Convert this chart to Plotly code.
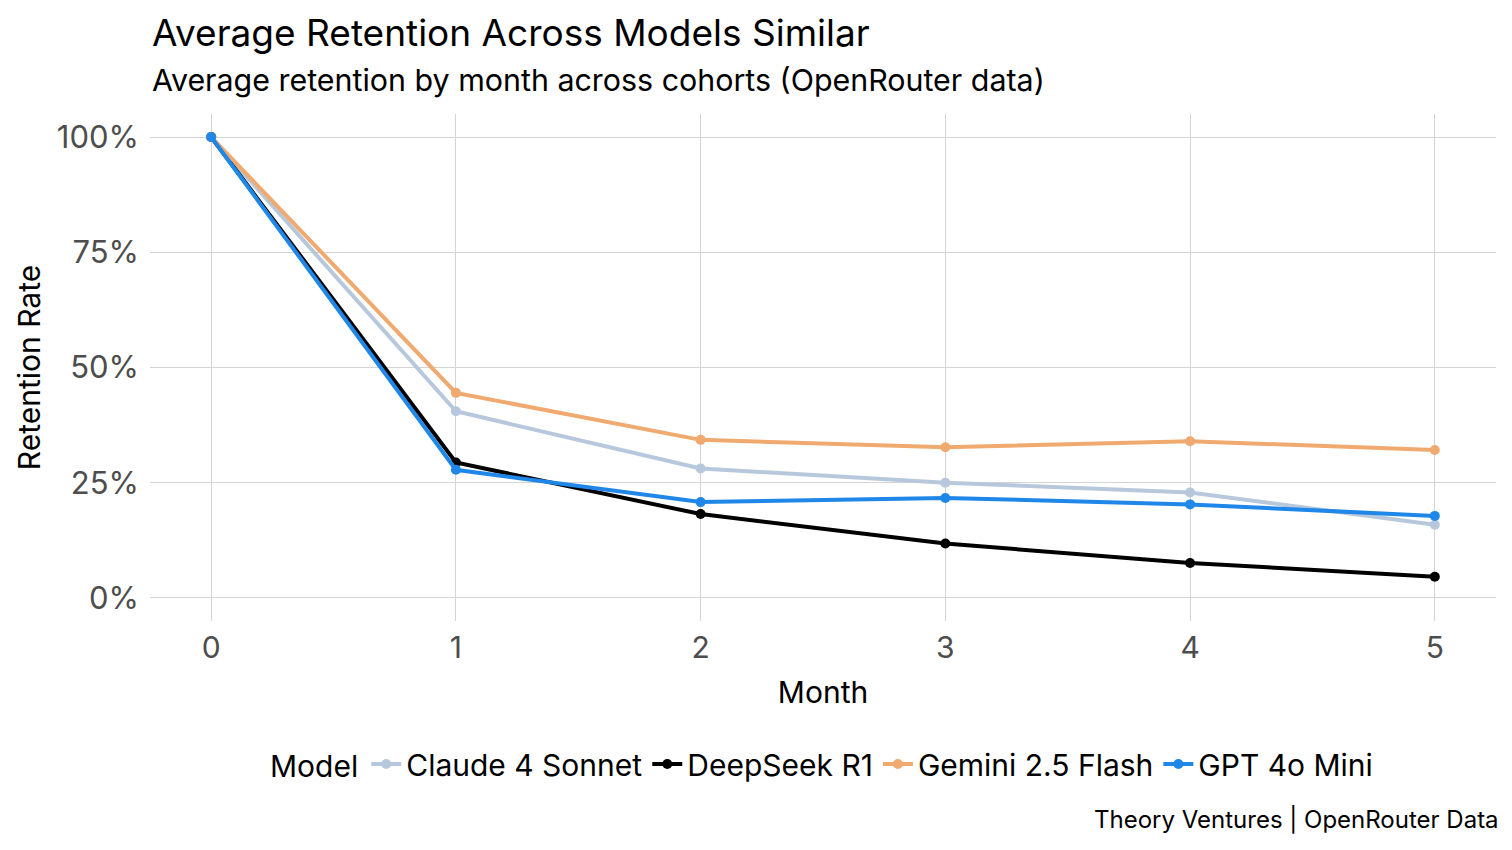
import plotly.graph_objects as go

months = [0, 1, 2, 3, 4, 5]

models = ['Claude 4 Sonnet', 'DeepSeek R1', 'Gemini 2.5 Flash', 'GPT 4o Mini']

claude = [1.0, 0.405, 0.281, 0.250, 0.229, 0.159]
deepseek = [1.0, 0.294, 0.182, 0.118, 0.076, 0.046]
gemini = [1.0, 0.445, 0.343, 0.327, 0.340, 0.321]
gpt = [1.0, 0.278, 0.208, 0.217, 0.203, 0.178]

colors = ['#b8c8dc', '#000000', '#f0aa6f', '#1f87e8']

font_name = 'Inter'

# the page body adds ~9px, so the plot area is given in figure pixels
top, bottom = 106, 613
plot_h = bottom - top


def py(pixel_y):
    # screenshot row -> paper fraction
    return (bottom - (pixel_y - 9)) / plot_h


fig = go.Figure()
for name, vals, col in zip(models, [claude, deepseek, gemini, gpt], colors):
    fig.add_trace(go.Scatter(
        x=months,
        y=vals,
        name=name,
        mode='lines+markers',
        line=dict(color=col, width=4),
        marker=dict(color=col, size=10),
    ))

fig.update_layout(
    width=1512,
    height=850,
    paper_bgcolor='white',
    plot_bgcolor='white',
    font=dict(family=font_name, color='black'),
    margin=dict(l=142, r=24, t=top, b=850 - bottom),
    xaxis=dict(
        range=[-0.25, 5.25],
        tickvals=months,
        showgrid=True,
        gridcolor='#d4d4d4',
        gridwidth=1,
        zeroline=False,
        showline=False,
        ticks='',
        automargin=False,
        ticklabelstandoff=6,
        tickfont=dict(size=30, color='#4d4d4d'),
        title=dict(text='Month', font=dict(size=30, color='black'), standoff=17),
    ),
    yaxis=dict(
        range=[-0.05, 1.05],
        tickvals=[0, 0.25, 0.5, 0.75, 1.0],
        ticktext=['0%', '25%', '50%', '75%', '100%'],
        showgrid=True,
        gridcolor='#d4d4d4',
        gridwidth=1,
        zeroline=False,
        showline=False,
        ticks='',
        automargin=False,
        ticklabelstandoff=10,
        tickfont=dict(size=31, color='#4d4d4d'),
        title=dict(text='Retention Rate', font=dict(size=30, color='black'), standoff=7),
    ),
    legend=dict(
        orientation='h',
        x=0.5,
        xanchor='center',
        y=py(765),
        yanchor='middle',
        font=dict(size=30, color='black'),
        title=dict(text='Model', font=dict(size=30, color='black')),
        itemwidth=30,
    ),
)

fig.add_annotation(
    text='Average Retention Across Models Similar',
    xref='paper', yref='paper',
    x=0, y=py(33),
    xanchor='left', yanchor='middle',
    showarrow=False,
    font=dict(size=37, color='black', family=font_name),
)
fig.add_annotation(
    text='Average retention by month across cohorts (OpenRouter data)',
    xref='paper', yref='paper',
    x=0, y=py(81),
    xanchor='left', yanchor='middle',
    showarrow=False,
    font=dict(size=30.4, color='black', family=font_name),
)
fig.add_annotation(
    text='Theory Ventures | OpenRouter Data',
    xref='paper', yref='paper',
    x=1.0, y=py(820),
    xanchor='right', yanchor='middle',
    xshift=5,
    showarrow=False,
    font=dict(size=24, color='black', family=font_name),
)

fig.write_html('out.html')
